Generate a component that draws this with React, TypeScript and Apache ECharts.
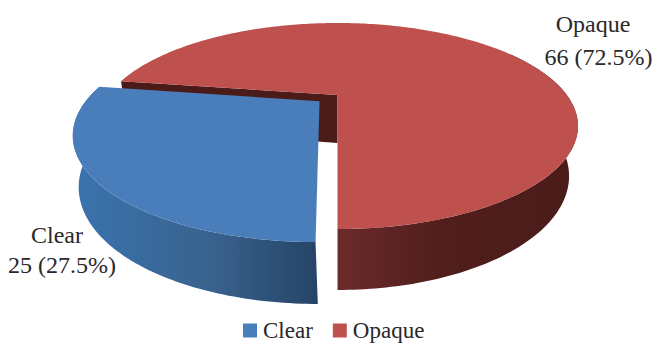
import React, { useEffect, useRef } from "react";
import * as echarts from "echarts";

// Fluid clarity counts per category
const categories = ["Clear", "Opaque"];
const counts = [25, 66];
const explodedCategory = "Clear";

const topColors = ["#4a7ebb", "#be504e"];
const sideStops = [
  [[0, "#3a73ad"], [0.55, "#39638f"], [1, "#264467"]],
  [[0, "#6b2a2a"], [0.45, "#501e1c"], [1, "#4a1c1a"]],
];
const wallColor = "#4a1b18";
const textColor = "#2b2829";
const fontFamily = '"Liberation Serif", "Times New Roman", serif';

// Perspective model of the pie: unit disc (u, v) with v pointing at the viewer,
// z = 0 on the top face and z = 1 on the bottom face.
const CX = 337.5;
const CY = 95;
const SCALE_X = 229.3;
const SCALE_Y = 93.7;
const TILT = 0.301;
const THICK = 49.8;
const SHRINK_Y = 0.037;
const SHRINK_X_SEATED = 0.035;
const SHRINK_X_EXPLODED = 0.015;
const EXPLODE = 0.101;
const EXPLODE_SKEW = 0.028;
const START_DEG = 180;

type Pt = number[];

function project(u: number, v: number, z: number, shrinkX: number): Pt {
  const dx = 1 - TILT * v + shrinkX * z;
  const dy = 1 - TILT * v + SHRINK_Y * z;
  return [CX + (SCALE_X * u) / dx, CY + (SCALE_Y * v + THICK * z) / dy];
}

function sliceProjector(midDeg: number, exploded: boolean) {
  const m = (midDeg * Math.PI) / 180;
  const du = exploded ? EXPLODE * Math.sin(m) : 0;
  const dv = exploded ? -EXPLODE * Math.cos(m) : 0;
  const shrinkX = exploded ? SHRINK_X_EXPLODED : SHRINK_X_SEATED;
  const apex = project(du, dv, 0, shrinkX);
  const adjust = (p: Pt): Pt =>
    exploded ? [p[0] + EXPLODE_SKEW * (p[1] - apex[1]), p[1]] : p;
  return {
    rim: (deg: number, z: number) => {
      const t = (deg * Math.PI) / 180;
      return adjust(project(Math.sin(t) + du, -Math.cos(t) + dv, z, shrinkX));
    },
    centre: (z: number) => adjust(project(du, dv, z, shrinkX)),
  };
}

function arcPoints(rim: (deg: number, z: number) => Pt, from: number, to: number, z: number) {
  const pts: Pt[] = [];
  const n = Math.max(2, Math.ceil(Math.abs(to - from)));
  for (let i = 0; i <= n; i++) pts.push(rim(from + ((to - from) * i) / n, z));
  return pts;
}

function sliceSpan(index: number) {
  const total = counts.reduce((a, b) => a + b, 0);
  const before = counts.slice(0, index).reduce((a, b) => a + b, 0);
  return [START_DEG + (before / total) * 360, START_DEG + ((before + counts[index]) / total) * 360];
}

function percent(index: number) {
  const total = counts.reduce((a, b) => a + b, 0);
  return ((counts[index] / total) * 100).toFixed(1);
}

function renderSlice(index: number) {
  return () => {
    const [from, to] = sliceSpan(index);
    const exploded = categories[index] === explodedCategory;
    const { rim, centre } = sliceProjector((from + to) / 2, exploded);
    const children: any[] = [];

    // Front wall: only the arc that faces the viewer is ever visible.
    const wallFrom = exploded ? from : 60 + 360;
    const wallTo = exploded ? to : 180 + 360;
    const top = arcPoints(rim, wallFrom, wallTo, 0);
    const bottom = arcPoints(rim, wallFrom, wallTo, 1).reverse();
    children.push({
      type: "polygon",
      shape: { points: top.concat(bottom) },
      style: {
        fill: {
          type: "linear",
          x: 0,
          y: 0,
          x2: 1,
          y2: 0,
          colorStops: sideStops[index].map((s: any) => ({ offset: s[0], color: s[1] })),
        },
      },
    });

    // Inner wall exposed by the exploded slice.
    if (!exploded) {
      children.push({
        type: "polygon",
        shape: { points: [rim(from, 0), centre(0), centre(1), rim(from, 1)] },
        style: { fill: wallColor },
      });
    }

    // Top face.
    children.push({
      type: "polygon",
      shape: { points: [centre(0), ...arcPoints(rim, from, to, 0)] },
      style: { fill: topColors[index] },
    });
    return { type: "group", children };
  };
}

function renderLabels(index: number, anchorX: number, nameY: number, valueX: number, valueY: number) {
  return {
    type: "group",
    silent: true,
    children: [
      {
        type: "text",
        style: {
          x: anchorX,
          y: nameY,
          text: categories[index],
          align: "center",
          verticalAlign: "middle",
          fill: textColor,
          font: `24px ${fontFamily}`,
        },
      },
      {
        type: "text",
        style: {
          x: valueX,
          y: valueY,
          text: `${counts[index]} (${percent(index)}%)`,
          align: "center",
          verticalAlign: "middle",
          fill: textColor,
          font: `24px ${fontFamily}`,
        },
      },
    ],
  };
}

const labelSpots: Record<string, number[]> = {
  Clear: [57, 235, 62, 265],
  Opaque: [593, 24, 598.5, 57],
};

function withLabels(index: number) {
  const drawSlice = renderSlice(index);
  return () => {
    const g: any = drawSlice();
    const s = labelSpots[categories[index]];
    g.children.push(renderLabels(index, s[0], s[1], s[2], s[3]));
    return g;
  };
}

export default function App() {
  const ref = useRef<HTMLDivElement>(null);

  useEffect(() => {
    document.body.style.margin = "0";
    const chart = echarts.init(ref.current!, undefined, { renderer: "svg" });
    // The exploded slice is listed last so it paints above the other one.
    const order = categories.map((_, i) => i).sort((a, b) =>
      categories[a] === explodedCategory ? 1 : categories[b] === explodedCategory ? -1 : 0
    );
    chart.setOption({
      animation: false,
      backgroundColor: "#ffffff",
      legend: {
        data: categories,
        left: 243,
        top: 319,
        padding: 0,
        itemGap: 20,
        itemWidth: 14,
        itemHeight: 14,
        icon: "rect",
        selectedMode: false,
        textStyle: { fontFamily, fontSize: 23, color: textColor, padding: [0, 0, 0, 1] },
      },
      series: order.map((i) => ({
        type: "custom",
        name: categories[i],
        coordinateSystem: "none",
        silent: true,
        itemStyle: { color: topColors[i] },
        data: [{ name: categories[i], value: counts[i] }],
        renderItem: withLabels(i),
      })),
    });
    return () => chart.dispose();
  }, []);

  return <div ref={ref} style={{ width: 652, height: 343 }} />;
}
